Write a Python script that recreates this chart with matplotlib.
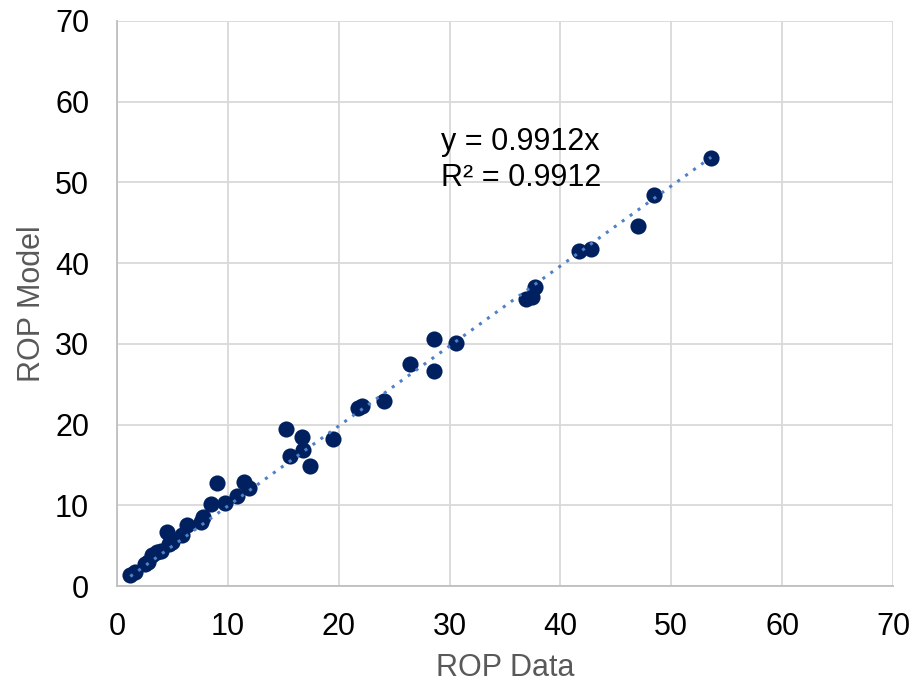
import numpy as np
import matplotlib.pyplot as plt

plt.rcParams['font.family'] = ['Liberation Sans', 'DejaVu Sans']

rop_data = [1.2, 1.6, 2.5, 2.8, 3.2, 3.6, 4.0, 4.5, 4.7, 5.0, 5.9, 6.3, 7.6, 7.8,
            8.5, 9.0, 9.7, 10.8, 11.5, 11.9, 15.2, 15.6, 16.7, 16.8, 17.4, 19.5,
            21.7, 22.1, 24.1, 26.4, 28.6, 28.6, 30.6, 36.9, 37.4, 37.7, 41.7,
            42.8, 47.0, 48.4, 53.6]
rop_model = [1.4, 1.7, 2.7, 3.0, 3.8, 4.2, 4.3, 6.7, 5.2, 5.5, 6.3, 7.5, 7.9, 8.5,
             10.2, 12.7, 10.3, 11.2, 12.9, 12.2, 19.5, 16.1, 18.4, 16.8, 14.9, 18.2,
             22.1, 22.3, 22.9, 27.5, 30.6, 26.6, 30.1, 35.5, 35.8, 37.0, 41.5,
             41.8, 44.6, 48.4, 53.0]
slope = 0.9912

fig = plt.figure(figsize=(9.21, 6.85), dpi=100)
ax = fig.add_axes([117/921, 1-586/685, 776/921, 565/685])

ax.scatter(rop_data, rop_model, s=135, color='#002060', zorder=3, linewidths=0)
xl = np.array([min(rop_data), max(rop_data)])
ax.plot(xl, slope*xl, linestyle=(0, (1, 2.2)), color='#4f81c7', lw=2.2, zorder=4)

ax.text(29.2, 55.0, 'y = 0.9912x', fontsize=22, va='center', ha='left')
ax.text(29.2, 50.6, 'R² = 0.9912', fontsize=22, va='center', ha='left')

ax.set_xlim(0, 70)
ax.set_ylim(0, 70)
ax.set_xticks(range(0, 71, 10))
ax.set_yticks(range(0, 71, 10))
ax.grid(True, color='#d9d9d9', lw=1.3)
ax.set_axisbelow(True)
for s in ['top', 'right']:
    ax.spines[s].set_visible(False)
for s in ['left', 'bottom']:
    ax.spines[s].set_color('#bfbfbf')
    ax.spines[s].set_linewidth(1.3)
ax.tick_params(length=0, labelsize=22)
ax.tick_params(axis='y', pad=20)
ax.tick_params(axis='x', pad=19)
ax.set_xlabel('ROP Data', fontsize=22, color='#595959', labelpad=8)
ax.set_ylabel('ROP Model', fontsize=22, color='#595959', labelpad=6)

fig.savefig('out.png', dpi=100)
